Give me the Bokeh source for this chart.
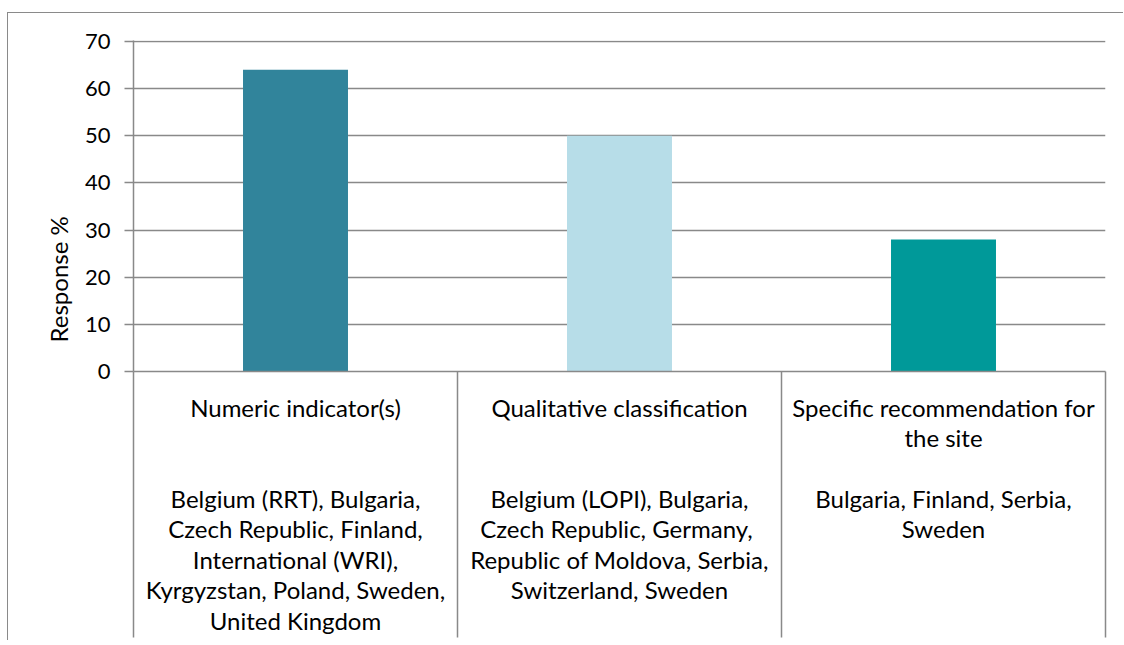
from bokeh.plotting import figure
from bokeh.models import Range1d, FixedTicker, Title
from bokeh.embed import file_html
from bokeh.resources import INLINE

# ---- data ----
categories = ["Numeric indicator(s)", "Qualitative classification",
              "Specific recommendation for the site"]
heading_lines = [["Numeric indicator(s)"],
                 ["Qualitative classification"],
                 ["Specific recommendation for", "the site"]]
country_lines = [
    ["Belgium (RRT), Bulgaria,", "Czech Republic, Finland,", "International (WRI),",
     "Kyrgyzstan, Poland, Sweden,", "United Kingdom"],
    ["Belgium (LOPI), Bulgaria,", "Czech Republic,  Germany,",
     "Republic of Moldova, Serbia,", "Switzerland, Sweden"],
    ["Bulgaria, Finland, Serbia,", "Sweden"],
]
values = [64, 50, 28]
bar_colors = ["#31849B", "#B7DDE8", "#009999"]
y_ticks = [0, 10, 20, 30, 40, 50, 60, 70]
y_label = "Response %"

FONT = "Lato"
GRID = "#898989"

n = len(categories)
xs = [i + 0.5 for i in range(n)]

p = figure(width=1116, height=628, output_backend="svg", toolbar_location=None,
           x_range=Range1d(0, n), y_range=Range1d(0, 70.2),
           min_border_left=125, min_border_right=19, min_border_top=27,
           min_border_bottom=270)
p.styles = {"margin-left": "7px", "margin-top": "12px",
            "border-left": "1px solid #8a8a8a", "border-top": "1px solid #8a8a8a"}
p.outline_line_color = None
p.background_fill_color = "white"
p.border_fill_color = "white"

p.vbar(x=xs, top=values, width=0.324, color=bar_colors, line_color=None)

# y axis
ya = p.yaxis[0]
ya.ticker = FixedTicker(ticks=y_ticks)
ya.major_tick_in = 0
ya.major_tick_out = 9
ya.minor_tick_line_color = None
ya.axis_line_color = GRID
ya.axis_line_width = 1.5
ya.major_tick_line_color = GRID
ya.major_tick_line_width = 1.5
ya.major_label_text_font = FONT
ya.major_label_text_font_size = "22px"
ya.major_label_text_color = "black"
ya.major_label_standoff = 14

# x axis: category text at centres, minor ticks serve as column separators
block_texts = []
for i in range(n):
    head = list(heading_lines[i])
    while len(head) < 3:
        head.append(" ")
    block_texts.append("\n".join(head + country_lines[i]))

SEP = 266
xa = p.xaxis[0]
xa.ticker = FixedTicker(ticks=xs, minor_ticks=list(range(n + 1)))
xa.major_tick_in = 0
xa.major_tick_out = 0
xa.major_tick_line_color = None
xa.minor_tick_in = 0
xa.minor_tick_out = SEP
xa.minor_tick_line_color = GRID
xa.minor_tick_line_width = 1.5
xa.axis_line_color = GRID
xa.axis_line_width = 1.5
xa.major_label_overrides = {x: t for x, t in zip(xs, block_texts)}
xa.major_label_text_font = FONT
xa.major_label_text_font_size = "24px"
xa.major_label_text_color = "black"
xa.major_label_text_line_height = 1.05
xa.major_label_standoff = 21 - SEP

p.xgrid.grid_line_color = None
p.ygrid.ticker = FixedTicker(ticks=y_ticks)
p.ygrid.grid_line_color = GRID
p.ygrid.grid_line_width = 1.5

# y axis title
p.add_layout(Title(text=y_label, align="left", offset=29, text_font=FONT,
                   text_font_size="24px", text_font_style="normal",
                   text_color="black", standoff=17), "left")

open("out.html", "w").write(file_html(p, INLINE))
